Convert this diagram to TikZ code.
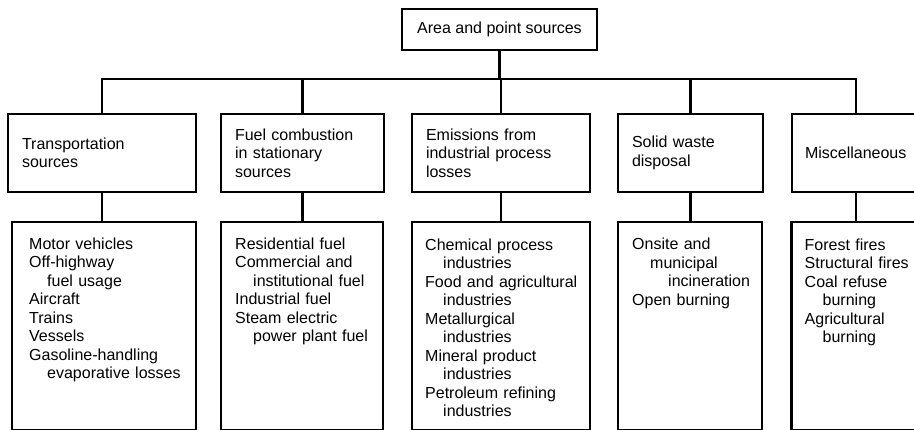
\documentclass[tikz,border=0pt]{standalone}
\usepackage{fontspec}
\setmainfont{Liberation Sans}
\newcommand\diaglbl{\fontsize{16}{18.5}\selectfont\hyphenpenalty=10000 }
\begin{document}
\begin{tikzpicture}[x=1pt,y=1pt,
  box/.style={draw, line width=2.5pt, rectangle, inner sep=0pt},
  ubox/.style={box, minimum height=78pt, inner xsep=14pt, align=left, font=\diaglbl},
  lbox/.style={box, minimum height=208pt},
  items/.style={anchor=base west, align=left, text width=200pt, inner sep=0pt, font=\diaglbl},
  conn/.style={line width=2.5pt}]
\useasboundingbox (0,0) rectangle (914,-429);
% top
\node[box, minimum width=195pt, minimum height=41pt, font=\diaglbl] (top) at (499.5,-29.5) {Area and point sources};
% upper boxes
\node[ubox, text width=160pt] (u1) at (102,-153) {Transportation\\sources};
\node[ubox, text width=135pt] (u2) at (302.5,-153) {Fuel combustion\\in stationary\\sources};
\node[ubox, text width=150pt] (u3) at (501,-153) {Emissions from\\industrial process\\losses};
\node[ubox, text width=117pt] (u4) at (690.5,-153) {Solid waste\\disposal};
\node[ubox, text width=102pt, inner xsep=13pt] (u5) at (856,-153) {Miscellaneous};
% lower boxes
\node[lbox, minimum width=184pt] (l1) at (104,-326) {};
\node[lbox, minimum width=162pt] (l2) at (302,-326) {};
\node[lbox, minimum width=178pt] (l3) at (501,-326) {};
\node[lbox, minimum width=144pt] (l4) at (690,-326) {};
\node[lbox, minimum width=128pt] (l5) at (855.5,-326) {};
% lists
\node[items] (t1) at (29,-249) {Motor vehicles\\Off-highway\\\hspace*{18pt}fuel usage\\Aircraft\\Trains\\Vessels\\Gasoline-handling\\\hspace*{18pt}evaporative losses};
\node[items] (t2) at (235,-249) {Residential fuel\\Commercial and\\\hspace*{18pt}institutional fuel\\Industrial fuel\\Steam electric\\\hspace*{18pt}power plant fuel};
\node[items] (t3) at (425,-250) {Chemical process\\\hspace*{18pt}industries\\Food and agricultural\\\hspace*{18pt}industries\\Metallurgical\\\hspace*{18pt}industries\\Mineral product\\\hspace*{18pt}industries\\Petroleum refining\\\hspace*{18pt}industries};
\node[items] (t4) at (632,-249.5) {Onsite and\\\hspace*{18pt}municipal\\\hspace*{36pt}incineration\\Open burning};
\node[items] (t5) at (804.5,-250) {Forest fires\\Structural fires\\Coal refuse\\\hspace*{18pt}burning\\Agricultural\\\hspace*{18pt}burning};
% connectors
\coordinate (bus) at (0,-79);
\draw[conn] (top.south) -- (top.south |- bus);
\draw[conn] (u1.north) -- (u1.north |- bus) -- (u5.north |- bus) -- (u5.north);
\foreach \i in {2,3,4} \draw[conn] (u\i.north |- bus) -- (u\i.north);
\foreach \i in {1,...,5} \draw[conn] (u\i.south) -- (u\i.south |- l\i.north);
\end{tikzpicture}
\end{document}
